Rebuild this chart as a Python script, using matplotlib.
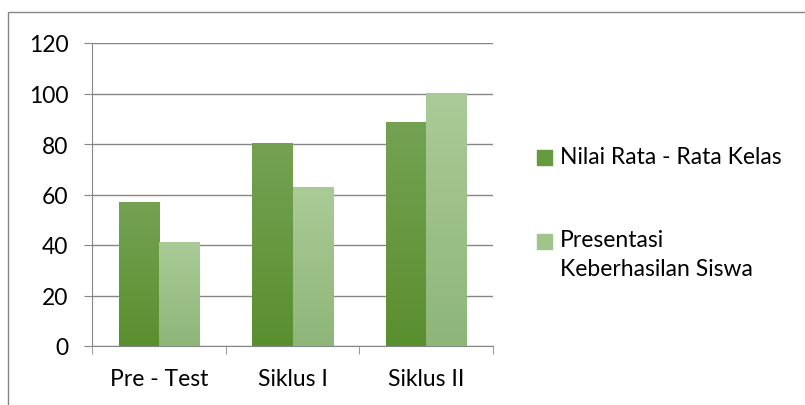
import numpy as np
import matplotlib.pyplot as plt
from matplotlib.patches import Rectangle
from matplotlib.colors import LinearSegmentedColormap

categories = ['Pre - Test', 'Siklus I', 'Siklus II']
nilai_rata = [57, 80.3, 88.5]
presentasi = [41, 62.7, 100]
series_names = ['Nilai Rata - Rata Kelas', 'Presentasi\nKeberhasilan Siswa']
yticks = [0, 20, 40, 60, 80, 100, 120]

plt.rcParams['font.family'] = ['Lato', 'DejaVu Sans']
FS = 16.5

fig = plt.figure(figsize=(8.05, 4.06), dpi=100)
ax = fig.add_axes([92 / 805, 1 - 347 / 406, 401 / 805, 303 / 406])

x = np.arange(len(categories))
w = 0.3
dark = LinearSegmentedColormap.from_list('dark', ['#5a8f2f', '#74a253'])
light = LinearSegmentedColormap.from_list('light', ['#8eb679', '#aacb97'])

bars1 = ax.bar(x - w / 2, nilai_rata, w, color='none', zorder=3)
bars2 = ax.bar(x + w / 2, presentasi, w, color='none', zorder=3)
grad = np.linspace(0, 1, 256).reshape(-1, 1)
for bars, cmap in [(bars1, dark), (bars2, light)]:
    for b in bars:
        x0, y0 = b.get_x(), b.get_y()
        ax.imshow(grad, cmap=cmap, origin='lower', aspect='auto', zorder=3,
                  extent=(x0, x0 + b.get_width(), y0, y0 + b.get_height()))

ax.set_xlim(-0.5, len(categories) - 0.5)
ax.set_ylim(0, 120)
ax.set_yticks(yticks)
ax.set_xticks(x)
ax.set_xticklabels(categories)
ax.set_xticks(np.arange(-0.5, len(categories)), minor=True)
ax.tick_params(axis='x', which='major', length=0, labelsize=FS, pad=16, colors='black')
ax.tick_params(axis='x', which='minor', length=6, color='#868686', direction='out')
ax.tick_params(axis='y', length=6, color='#868686', labelsize=FS, pad=11)
ax.grid(axis='y', color='#868686', linewidth=1, zorder=0)
for s in ['top', 'right']:
    ax.spines[s].set_visible(False)
for s in ['left', 'bottom']:
    ax.spines[s].set_color('#868686')

# legend drawn on the figure
fig.patches.append(Rectangle((537 / 805, 1 - 166 / 406), 15 / 805, 15 / 406,
                             transform=fig.transFigure, color='#659a3f'))
fig.patches.append(Rectangle((537 / 805, 1 - 250 / 406), 15 / 805, 15 / 406,
                             transform=fig.transFigure, color='#a0c48b'))
fig.text(560 / 805, 1 - 158 / 406, series_names[0], fontsize=FS, va='center')
fig.text(560 / 805, 1 - 230 / 406, series_names[1], fontsize=FS, va='top',
         linespacing=1.45)

# chart frame (runs off the right and bottom edges)
fig.patches.append(Rectangle((8 / 805, -0.05), 1.1, 1 - 13 / 406 + 0.05,
                             transform=fig.transFigure, fill=False,
                             edgecolor='#868686', linewidth=1))

fig.savefig('out.png', dpi=100)
